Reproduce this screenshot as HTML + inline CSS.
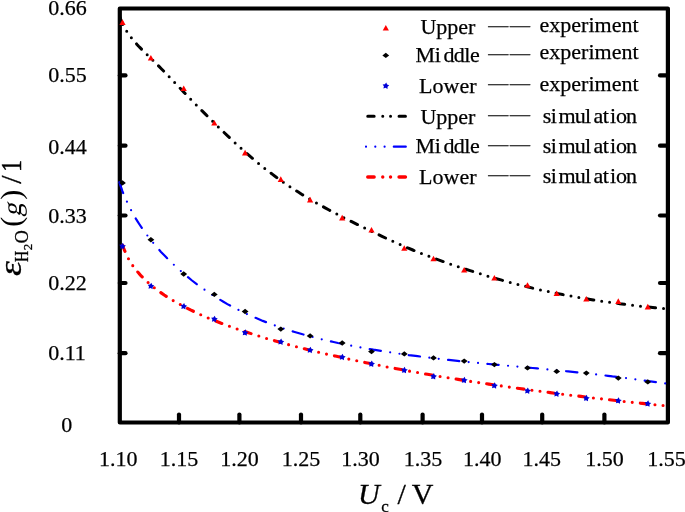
<!DOCTYPE html>
<html><head><meta charset="utf-8"><title>chart</title>
<style>html,body{margin:0;padding:0;background:#fff;}body{width:685px;height:512px;overflow:hidden;}svg{display:block;}</style>
</head><body>
<svg width="685" height="512" viewBox="0 0 685 512">
<rect width="685" height="512" fill="#fff"/>
<g stroke="#000" stroke-width="4.2" stroke-linecap="round" fill="none">
<rect x="119.8" y="8.5" width="548.1" height="414" stroke-linejoin="round"/>
<line x1="179.0" y1="422.5" x2="179.0" y2="414.5"/>
<line x1="239.4" y1="422.5" x2="239.4" y2="414.5"/>
<line x1="301.0" y1="422.5" x2="301.0" y2="414.5"/>
<line x1="360.3" y1="422.5" x2="360.3" y2="414.5"/>
<line x1="422.6" y1="422.5" x2="422.6" y2="414.5"/>
<line x1="482.0" y1="422.5" x2="482.0" y2="414.5"/>
<line x1="542.2" y1="422.5" x2="542.2" y2="414.5"/>
<line x1="604.4" y1="422.5" x2="604.4" y2="414.5"/>
<line x1="119.8" y1="75.4" x2="125.5" y2="75.4"/>
<line x1="667.9" y1="75.4" x2="660" y2="75.4"/>
<line x1="119.8" y1="145.7" x2="125.5" y2="145.7"/>
<line x1="667.9" y1="145.7" x2="660" y2="145.7"/>
<line x1="119.8" y1="215.5" x2="125.5" y2="215.5"/>
<line x1="667.9" y1="215.5" x2="660" y2="215.5"/>
<line x1="119.8" y1="283.0" x2="125.5" y2="283.0"/>
<line x1="667.9" y1="283.0" x2="660" y2="283.0"/>
<line x1="119.8" y1="353.2" x2="125.5" y2="353.2"/>
<line x1="667.9" y1="353.2" x2="660" y2="353.2"/>
</g>
<g fill="none" stroke-linecap="round" stroke-linejoin="round">
<path d="M119.8,16.5 L120.5,18.7 L121.2,20.7 L121.9,22.4 L122.6,23.9 L123.2,25.3 L123.9,26.6 L124.6,27.9 L125.3,29.1 L126.0,30.2 L126.7,31.3 L127.4,32.3 L128.1,33.4 L128.8,34.3 L129.5,35.3 L130.1,36.2 L130.8,37.1 L131.5,38.0 L132.2,38.9 L132.9,39.7 L133.6,40.6 L134.3,41.4 L135.0,42.2 L135.7,43.0 L136.4,43.7 L137.0,44.5 L137.7,45.2 L138.4,46.0 L139.1,46.7 L139.8,47.4 L144.2,51.8 L148.6,56.1 L153.0,60.4 L157.4,64.8 L161.8,69.2 L166.2,73.7 L170.6,78.3 L175.0,82.9 L179.4,87.5 L183.8,92.1 L188.2,96.7 L192.6,101.2 L197.0,105.7 L201.4,110.2 L205.9,114.6 L210.3,119.0 L214.7,123.4 L219.1,127.7 L223.5,131.9 L227.9,136.1 L232.3,140.3 L236.7,144.3 L241.1,148.3 L245.5,152.3 L249.9,156.1 L254.3,159.9 L258.7,163.5 L263.1,167.1 L267.5,170.5 L271.9,173.9 L276.3,177.2 L280.7,180.4 L285.1,183.4 L289.5,186.4 L293.9,189.3 L298.3,192.1 L302.7,194.9 L307.1,197.5 L311.5,200.1 L315.9,202.7 L320.3,205.2 L324.7,207.6 L329.1,210.0 L333.5,212.4 L338.0,214.7 L342.4,217.0 L346.8,219.2 L351.2,221.4 L355.6,223.6 L360.0,225.8 L364.4,227.9 L368.8,230.1 L373.2,232.2 L377.6,234.2 L382.0,236.3 L386.4,238.4 L390.8,240.4 L395.2,242.4 L399.6,244.3 L404.0,246.3 L408.4,248.2 L412.8,250.0 L417.2,251.8 L421.6,253.6 L426.0,255.3 L430.4,256.9 L434.8,258.6 L439.2,260.1 L443.6,261.7 L448.0,263.3 L452.4,264.8 L456.8,266.3 L461.2,267.7 L465.6,269.2 L470.1,270.6 L474.5,272.0 L478.9,273.4 L483.3,274.8 L487.7,276.1 L492.1,277.4 L496.5,278.7 L500.9,279.9 L505.3,281.1 L509.7,282.3 L514.1,283.5 L518.5,284.6 L522.9,285.7 L527.3,286.8 L531.7,287.9 L536.1,288.9 L540.5,289.9 L544.9,290.8 L549.3,291.8 L553.7,292.7 L558.1,293.6 L562.5,294.5 L566.9,295.3 L571.3,296.1 L575.7,296.9 L580.1,297.7 L584.5,298.4 L588.9,299.2 L593.3,299.9 L597.7,300.6 L602.2,301.2 L606.6,301.9 L611.0,302.5 L615.4,303.1 L619.8,303.7 L624.2,304.2 L628.6,304.8 L633.0,305.3 L637.4,305.8 L641.8,306.3 L646.2,306.8 L650.6,307.2 L655.0,307.7 L659.4,308.1 L663.8,308.5" stroke="#000" stroke-width="3" stroke-dasharray="7.2 7.98 0 7.98 0 7.98" stroke-dashoffset="29.88"/>
<path d="M118.9,180.7 L119.6,182.9 L120.3,185.1 L121.0,187.1 L121.7,189.0 L122.3,190.9 L123.0,192.7 L123.7,194.4 L124.4,196.1 L125.1,197.7 L125.8,199.3 L126.5,200.8 L127.2,202.3 L127.9,203.8 L128.6,205.2 L129.2,206.6 L129.9,208.0 L130.6,209.3 L131.3,210.6 L132.0,211.9 L132.7,213.2 L133.4,214.4 L134.1,215.6 L134.8,216.8 L135.5,218.0 L136.1,219.1 L136.8,220.2 L137.5,221.3 L138.2,222.4 L138.9,223.5 L143.3,230.1 L147.8,236.1 L152.2,241.7 L156.6,246.9 L161.0,251.9 L165.5,256.5 L169.9,261.0 L174.3,265.2 L178.7,269.3 L183.2,273.2 L187.6,276.9 L192.0,280.5 L196.4,283.9 L200.9,287.2 L205.3,290.3 L209.7,293.3 L214.1,296.2 L218.6,298.9 L223.0,301.5 L227.4,304.1 L231.8,306.5 L236.3,308.8 L240.7,311.0 L245.1,313.2 L249.5,315.2 L254.0,317.2 L258.4,319.0 L262.8,320.9 L267.2,322.6 L271.7,324.3 L276.1,325.9 L280.5,327.4 L284.9,328.9 L289.4,330.3 L293.8,331.7 L298.2,333.0 L302.6,334.3 L307.1,335.5 L311.5,336.7 L315.9,337.9 L320.3,339.0 L324.8,340.0 L329.2,341.1 L333.6,342.0 L338.0,343.0 L342.5,343.9 L346.9,344.8 L351.3,345.7 L355.7,346.6 L360.2,347.4 L364.6,348.2 L369.0,348.9 L373.4,349.7 L377.9,350.4 L382.3,351.1 L386.7,351.8 L391.1,352.5 L395.6,353.2 L400.0,353.8 L404.4,354.4 L408.8,355.1 L413.3,355.6 L417.7,356.2 L422.1,356.8 L426.5,357.4 L431.0,357.9 L435.4,358.4 L439.8,358.9 L444.2,359.5 L448.7,359.9 L453.1,360.4 L457.5,360.9 L461.9,361.4 L466.4,361.8 L470.8,362.3 L475.2,362.7 L479.6,363.1 L484.1,363.6 L488.5,364.0 L492.9,364.4 L497.3,364.8 L501.8,365.2 L506.2,365.6 L510.6,366.0 L515.0,366.4 L519.5,366.8 L523.9,367.2 L528.3,367.6 L532.7,368.0 L537.2,368.4 L541.6,368.8 L546.0,369.3 L550.4,369.7 L554.9,370.1 L559.3,370.6 L563.7,371.0 L568.1,371.4 L572.6,371.9 L577.0,372.4 L581.4,372.8 L585.8,373.3 L590.3,373.8 L594.7,374.3 L599.1,374.8 L603.5,375.3 L608.0,375.8 L612.4,376.4 L616.8,376.9 L621.2,377.5 L625.7,378.0 L630.1,378.6 L634.5,379.2 L638.9,379.8 L643.4,380.4 L647.8,381.0 L652.2,381.6 L656.6,382.2 L661.1,382.9 L665.5,383.5" stroke="#00f" stroke-width="2.2" stroke-dasharray="11.3 9.42 0 9.42 0 9.41" stroke-dashoffset="37.75"/>
<path d="M122.3,243.9 L123.0,246.1 L123.7,248.2 L124.4,250.0 L125.1,251.7 L125.7,253.3 L126.4,254.8 L127.1,256.2 L127.8,257.5 L128.5,258.8 L129.2,260.0 L129.9,261.1 L130.6,262.3 L131.3,263.3 L132.0,264.4 L132.6,265.4 L133.3,266.4 L134.0,267.3 L134.7,268.3 L135.4,269.2 L136.1,270.0 L136.8,270.9 L137.5,271.7 L138.2,272.5 L138.9,273.3 L139.5,274.1 L140.2,274.9 L140.9,275.6 L141.6,276.3 L142.3,277.0 L146.7,281.3 L151.1,285.2 L155.5,288.7 L159.8,291.9 L164.2,295.0 L168.6,297.8 L173.0,300.5 L177.4,303.0 L181.8,305.4 L186.2,307.7 L190.5,309.9 L194.9,312.0 L199.3,314.1 L203.7,316.0 L208.1,317.9 L212.5,319.7 L216.9,321.5 L221.2,323.2 L225.6,324.8 L230.0,326.5 L234.4,328.0 L238.8,329.5 L243.2,331.0 L247.6,332.5 L251.9,333.9 L256.3,335.3 L260.7,336.6 L265.1,338.0 L269.5,339.3 L273.9,340.5 L278.3,341.8 L282.6,343.0 L287.0,344.2 L291.4,345.4 L295.8,346.5 L300.2,347.7 L304.6,348.8 L309.0,349.9 L313.3,350.9 L317.7,352.0 L322.1,353.1 L326.5,354.1 L330.9,355.1 L335.3,356.1 L339.7,357.1 L344.0,358.0 L348.4,359.0 L352.8,359.9 L357.2,360.9 L361.6,361.8 L366.0,362.7 L370.4,363.6 L374.7,364.5 L379.1,365.3 L383.5,366.2 L387.9,367.1 L392.3,367.9 L396.7,368.7 L401.1,369.5 L405.4,370.4 L409.8,371.2 L414.2,371.9 L418.6,372.7 L423.0,373.5 L427.4,374.3 L431.8,375.0 L436.1,375.8 L440.5,376.5 L444.9,377.2 L449.3,378.0 L453.7,378.7 L458.1,379.4 L462.5,380.1 L466.8,380.8 L471.2,381.5 L475.6,382.1 L480.0,382.8 L484.4,383.5 L488.8,384.1 L493.2,384.8 L497.5,385.4 L501.9,386.0 L506.3,386.7 L510.7,387.3 L515.1,387.9 L519.5,388.5 L523.9,389.1 L528.2,389.7 L532.6,390.3 L537.0,390.9 L541.4,391.5 L545.8,392.0 L550.2,392.6 L554.6,393.2 L558.9,393.7 L563.3,394.3 L567.7,394.8 L572.1,395.4 L576.5,395.9 L580.9,396.4 L585.3,397.0 L589.6,397.5 L594.0,398.0 L598.4,398.5 L602.8,399.0 L607.2,399.5 L611.6,400.0 L616.0,400.5 L620.3,401.0 L624.7,401.5 L629.1,402.0 L633.5,402.5 L637.9,402.9 L642.3,403.4 L646.7,403.9 L651.0,404.3 L655.4,404.8 L659.8,405.2 L664.2,405.7" stroke="#f00" stroke-width="3.1" stroke-dasharray="6.6 8.12 0 8.12 0 8.13" stroke-dashoffset="29.56"/>
</g>
<path d="M122.5,19.3 L125.6,24.9 L119.4,24.9 Z" fill="#f00"/>
<path d="M150.9,55.0 L154.0,60.6 L147.8,60.6 Z" fill="#f00"/>
<path d="M183.7,85.5 L186.8,91.1 L180.6,91.1 Z" fill="#f00"/>
<path d="M214.3,120.0 L217.4,125.6 L211.2,125.6 Z" fill="#f00"/>
<path d="M245.1,149.8 L248.2,155.4 L242.0,155.4 Z" fill="#f00"/>
<path d="M280.8,176.3 L283.9,181.9 L277.7,181.9 Z" fill="#f00"/>
<path d="M310.1,196.8 L313.2,202.4 L307.0,202.4 Z" fill="#f00"/>
<path d="M342.2,214.8 L345.3,220.4 L339.1,220.4 Z" fill="#f00"/>
<path d="M371.5,227.0 L374.6,232.6 L368.4,232.6 Z" fill="#f00"/>
<path d="M404.3,245.2 L407.4,250.8 L401.2,250.8 Z" fill="#f00"/>
<path d="M433.5,255.7 L436.6,261.3 L430.4,261.3 Z" fill="#f00"/>
<path d="M464.2,267.0 L467.3,272.6 L461.1,272.6 Z" fill="#f00"/>
<path d="M494.4,275.0 L497.5,280.6 L491.3,280.6 Z" fill="#f00"/>
<path d="M527.5,282.2 L530.6,287.8 L524.4,287.8 Z" fill="#f00"/>
<path d="M556.7,290.5 L559.8,296.1 L553.6,296.1 Z" fill="#f00"/>
<path d="M586.3,296.0 L589.4,301.6 L583.2,301.6 Z" fill="#f00"/>
<path d="M618.3,298.3 L621.4,303.9 L615.2,303.9 Z" fill="#f00"/>
<path d="M647.8,303.8 L650.9,309.4 L644.7,309.4 Z" fill="#f00"/>
<path d="M122.5,180.2 L125.9,182.9 L122.5,185.6 L119.1,182.9 Z" fill="#000"/>
<path d="M150.9,237.0 L154.3,239.7 L150.9,242.4 L147.5,239.7 Z" fill="#000"/>
<path d="M183.7,271.3 L187.1,274.0 L183.7,276.7 L180.3,274.0 Z" fill="#000"/>
<path d="M214.3,291.7 L217.7,294.4 L214.3,297.1 L210.9,294.4 Z" fill="#000"/>
<path d="M245.1,308.8 L248.5,311.5 L245.1,314.2 L241.7,311.5 Z" fill="#000"/>
<path d="M280.8,326.4 L284.2,329.1 L280.8,331.8 L277.4,329.1 Z" fill="#000"/>
<path d="M310.1,333.2 L313.5,335.9 L310.1,338.6 L306.7,335.9 Z" fill="#000"/>
<path d="M342.2,340.3 L345.6,343.0 L342.2,345.7 L338.8,343.0 Z" fill="#000"/>
<path d="M371.5,348.9 L374.9,351.6 L371.5,354.3 L368.1,351.6 Z" fill="#000"/>
<path d="M404.3,351.2 L407.7,353.9 L404.3,356.6 L400.9,353.9 Z" fill="#000"/>
<path d="M433.5,355.2 L436.9,357.9 L433.5,360.6 L430.1,357.9 Z" fill="#000"/>
<path d="M464.2,358.4 L467.6,361.1 L464.2,363.8 L460.8,361.1 Z" fill="#000"/>
<path d="M494.4,361.9 L497.8,364.6 L494.4,367.3 L491.0,364.6 Z" fill="#000"/>
<path d="M527.5,365.2 L530.9,367.9 L527.5,370.6 L524.1,367.9 Z" fill="#000"/>
<path d="M556.7,368.7 L560.1,371.4 L556.7,374.1 L553.3,371.4 Z" fill="#000"/>
<path d="M586.3,370.4 L589.7,373.1 L586.3,375.8 L582.9,373.1 Z" fill="#000"/>
<path d="M618.3,375.4 L621.7,378.1 L618.3,380.8 L614.9,378.1 Z" fill="#000"/>
<path d="M647.8,379.2 L651.2,381.9 L647.8,384.6 L644.4,381.9 Z" fill="#000"/>
<polygon points="122.92,242.83 123.81,244.89 125.93,245.62 124.25,247.11 124.20,249.36 122.27,248.21 120.12,248.86 120.61,246.67 119.32,244.83 121.56,244.62" fill="#0000d8"/>
<polygon points="151.32,282.63 152.21,284.69 154.33,285.42 152.65,286.91 152.60,289.16 150.67,288.01 148.52,288.66 149.01,286.47 147.72,284.63 149.96,284.42" fill="#0000d8"/>
<polygon points="184.12,302.93 185.01,304.99 187.13,305.72 185.45,307.21 185.40,309.46 183.47,308.31 181.32,308.96 181.81,306.77 180.52,304.93 182.76,304.72" fill="#0000d8"/>
<polygon points="214.72,315.63 215.61,317.69 217.73,318.42 216.05,319.91 216.00,322.16 214.07,321.01 211.92,321.66 212.41,319.47 211.12,317.63 213.36,317.42" fill="#0000d8"/>
<polygon points="245.52,329.33 246.41,331.39 248.53,332.12 246.85,333.61 246.80,335.86 244.87,334.71 242.72,335.36 243.21,333.17 241.92,331.33 244.16,331.12" fill="#0000d8"/>
<polygon points="281.22,338.43 282.11,340.49 284.23,341.22 282.55,342.71 282.50,344.96 280.57,343.81 278.42,344.46 278.91,342.27 277.62,340.43 279.86,340.22" fill="#0000d8"/>
<polygon points="310.52,346.63 311.41,348.69 313.53,349.42 311.85,350.91 311.80,353.16 309.87,352.01 307.72,352.66 308.21,350.47 306.92,348.63 309.16,348.42" fill="#0000d8"/>
<polygon points="342.62,353.73 343.51,355.79 345.63,356.52 343.95,358.01 343.90,360.26 341.97,359.11 339.82,359.76 340.31,357.57 339.02,355.73 341.26,355.52" fill="#0000d8"/>
<polygon points="371.92,360.53 372.81,362.59 374.93,363.32 373.25,364.81 373.20,367.06 371.27,365.91 369.12,366.56 369.61,364.37 368.32,362.53 370.56,362.32" fill="#0000d8"/>
<polygon points="404.72,366.83 405.61,368.89 407.73,369.62 406.05,371.11 406.00,373.36 404.07,372.21 401.92,372.86 402.41,370.67 401.12,368.83 403.36,368.62" fill="#0000d8"/>
<polygon points="433.92,373.03 434.81,375.09 436.93,375.82 435.25,377.31 435.20,379.56 433.27,378.41 431.12,379.06 431.61,376.87 430.32,375.03 432.56,374.82" fill="#0000d8"/>
<polygon points="464.62,376.83 465.51,378.89 467.63,379.62 465.95,381.11 465.90,383.36 463.97,382.21 461.82,382.86 462.31,380.67 461.02,378.83 463.26,378.62" fill="#0000d8"/>
<polygon points="494.82,382.23 495.71,384.29 497.83,385.02 496.15,386.51 496.10,388.76 494.17,387.61 492.02,388.26 492.51,386.07 491.22,384.23 493.46,384.02" fill="#0000d8"/>
<polygon points="527.92,387.43 528.81,389.49 530.93,390.22 529.25,391.71 529.20,393.96 527.27,392.81 525.12,393.46 525.61,391.27 524.32,389.43 526.56,389.22" fill="#0000d8"/>
<polygon points="557.12,390.43 558.01,392.49 560.13,393.22 558.45,394.71 558.40,396.96 556.47,395.81 554.32,396.46 554.81,394.27 553.52,392.43 555.76,392.22" fill="#0000d8"/>
<polygon points="586.72,394.83 587.61,396.89 589.73,397.62 588.05,399.11 588.00,401.36 586.07,400.21 583.92,400.86 584.41,398.67 583.12,396.83 585.36,396.62" fill="#0000d8"/>
<polygon points="618.72,397.33 619.61,399.39 621.73,400.12 620.05,401.61 620.00,403.86 618.07,402.71 615.92,403.36 616.41,401.17 615.12,399.33 617.36,399.12" fill="#0000d8"/>
<polygon points="648.22,400.33 649.11,402.39 651.23,403.12 649.55,404.61 649.50,406.86 647.57,405.71 645.42,406.36 645.91,404.17 644.62,402.33 646.86,402.12" fill="#0000d8"/>
<g font-family="Liberation Serif, serif" font-size="22" fill="#000" stroke="#000" stroke-width="0.25">
<text x="118.2" y="466" text-anchor="middle">1.10</text>
<text x="179.0" y="466" text-anchor="middle">1.15</text>
<text x="239.5" y="466" text-anchor="middle">1.20</text>
<text x="301.0" y="466" text-anchor="middle">1.25</text>
<text x="360.4" y="466" text-anchor="middle">1.30</text>
<text x="422.9" y="466" text-anchor="middle">1.35</text>
<text x="482.2" y="466" text-anchor="middle">1.40</text>
<text x="541.7" y="466" text-anchor="middle">1.45</text>
<text x="604.5" y="466" text-anchor="middle">1.50</text>
<text x="666.4" y="466" text-anchor="middle">1.55</text>
<text x="48.2" y="15.1">0.66</text>
<text x="48.2" y="82.1">0.55</text>
<text x="48.2" y="153.8">0.44</text>
<text x="48.2" y="222.9">0.33</text>
<text x="48.2" y="290.2">0.22</text>
<text x="48.2" y="360.2">0.11</text>
<text x="61.2" y="432.3">0</text>
</g>
<g font-family="Liberation Serif, serif" font-size="30" fill="#000" stroke="#000" stroke-width="0.3">
<text x="358.05" y="504.3" font-style="italic">U</text>
<text x="381.25" y="511.5" font-size="17">c</text>
<text x="397.6" y="504.3">/</text>
<text x="411.86" y="504.3">V</text>
<g transform="rotate(-90)">
<text x="0" y="21.2" font-style="italic" font-size="31.5" transform="translate(-276.0,0) scale(1.2,1)">ε</text>
<text x="0" y="28.2" font-size="18" transform="translate(-262.0,0) scale(0.86,1)">H</text>
<text x="-250.17" y="31.7" font-size="13">2</text>
<text x="-243.34" y="28.3" font-size="18">O</text>
<text x="-226.8" y="20.8" stroke="none">(</text>
<text x="0" y="0" font-size="27" stroke="none" transform="translate(-216.7,20.8) skewX(-12)">g</text>
<text x="-199.7" y="20.8" stroke="none">)</text>
<text x="-183.8" y="20.8">/</text>
<text x="0" y="20.8" transform="translate(-171.7,0) scale(0.78,1)" stroke="#000" stroke-width="0.5">1</text>
</g></g>
<g font-family="Liberation Serif, serif" font-size="22" fill="#000" stroke="#000" stroke-width="0.25">
<text x="420.4" y="34.3">Upper</text>
<text x="415.6" y="62.2" dx="0 -0.3 2.4 -0.6 -0.5 -0.5">Middle</text>
<text x="419.1" y="92.6">Lower</text>
<text x="420.4" y="123.5">Upper</text>
<text x="415.6" y="153.3" dx="0 -0.3 2.4 -0.6 -0.5 -0.5">Middle</text>
<text x="419.1" y="184.3">Lower</text>
<text x="539.6" y="32.0">experiment</text>
<text x="539.6" y="58.9">experiment</text>
<text x="539.6" y="91.2">experiment</text>
<text x="542.8" y="123.2" dx="0 -0.6 1.6 -0.9 -0.7 2.4 -0.6 1.2 -0.2 -0.9">simulation</text>
<text x="542.8" y="153.3" dx="0 -0.6 1.6 -0.9 -0.7 2.4 -0.6 1.2 -0.2 -0.9">simulation</text>
<text x="542.8" y="183.0" dx="0 -0.6 1.6 -0.9 -0.7 2.4 -0.6 1.2 -0.2 -0.9">simulation</text>
</g>
<g font-family="Liberation Serif, serif" font-size="20" fill="#333" stroke="#333" stroke-width="0.35" letter-spacing="1.9">
<text x="488.2" y="31.8">——</text>
<text x="488.2" y="59.7">——</text>
<text x="488.2" y="90.3">——</text>
<text x="488.2" y="120.7">——</text>
<text x="488.2" y="150.7">——</text>
<text x="488.2" y="181.3">——</text>
</g>
<path d="M385.8,25.0 L388.9,30.6 L382.7,30.6 Z" fill="#f00"/>
<path d="M385.8,52.7 L389.2,55.4 L385.8,58.1 L382.4,55.4 Z" fill="#000"/>
<polygon points="386.22,82.43 387.11,84.49 389.23,85.22 387.55,86.71 387.50,88.96 385.57,87.81 383.42,88.46 383.91,86.27 382.62,84.43 384.86,84.22" fill="#0000d8"/>
<g fill="none" stroke-linecap="round">
<line x1="367.75" y1="116.3" x2="407" y2="116.3" stroke="#000" stroke-width="3" stroke-dasharray="6.4 8.6 0 7.8 0 8.5"/>
<line x1="366" y1="146.7" x2="406" y2="146.7" stroke="#00f" stroke-width="2.2" stroke-dasharray="0 9.3 0 9.3 0 9.2 12 100"/>
<line x1="367.75" y1="177" x2="407" y2="177" stroke="#f00" stroke-width="3.4" stroke-dasharray="6.4 8.6 0 7.8 0 8.5"/>
</g>
</svg>
</body></html>
